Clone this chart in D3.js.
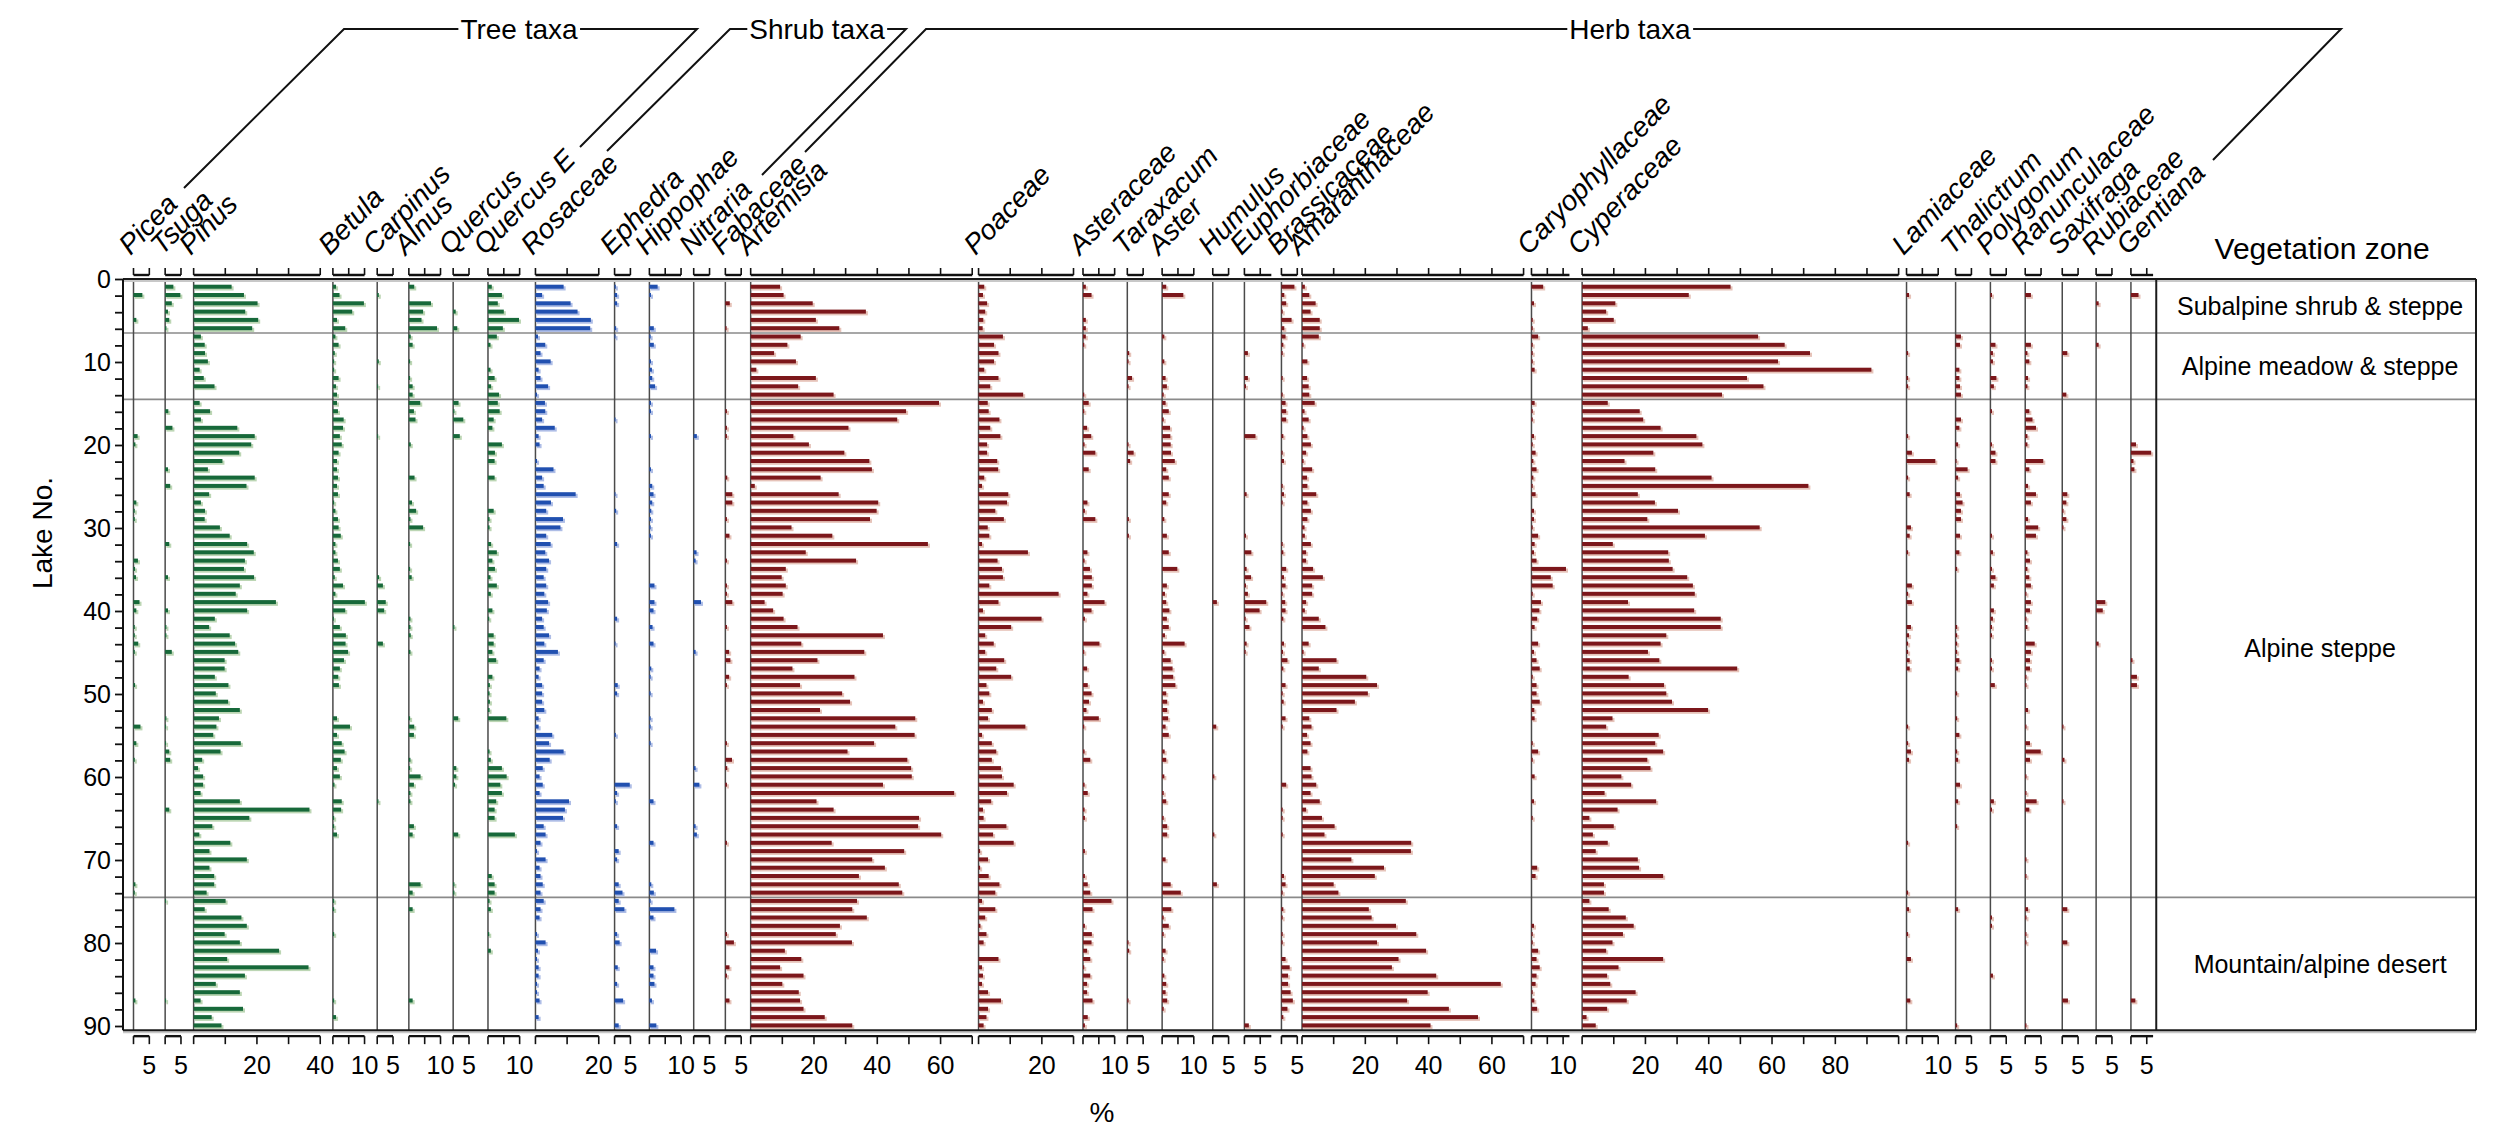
<!DOCTYPE html>
<html>
<head>
<meta charset="utf-8">
<script src="https://cdn.jsdelivr.net/npm/d3@7"></script>
<style>
  body { margin: 0; background: #fff; }
  svg { display: block; font-family: Arial, "Liberation Sans", sans-serif; }
</style>
</head>
<body>
<div id="chart"></div>
<script>
// ---- data: pollen percentages per lake (lakes 1..90) ----
const taxa = ["Picea", "Tsuga", "Pinus", "Betula", "Carpinus", "Alnus", "Quercus", "Quercus E",
  "Rosaceae", "Ephedra", "Hippophae", "Nitraria",
  "Fabaceae", "Artemisia", "Poaceae", "Asteraceae", "Taraxacum", "Aster", "Humulus", "Euphorbiaceae",
  "Brassicaceae", "Amaranthaceae", "Caryophyllaceae", "Cyperaceae", "Lamiaceae", "Thalictrum",
  "Polygonum", "Ranunculaceae", "Saxifraga", "Rubiaceae", "Gentiana"];
const groups = ["tree", "tree", "tree", "tree", "tree", "tree", "tree", "tree",
  "shrub", "shrub", "shrub", "shrub",
  "herb", "herb", "herb", "herb", "herb", "herb", "herb", "herb", "herb", "herb", "herb", "herb",
  "herb", "herb", "herb", "herb", "herb", "herb", "herb"];
// panel x-domain (in %), axis extent and labelled ticks
const panelSpan = [10, 9, 44, 14, 10, 14, 11, 15, 25, 11, 14, 10, 8, 72, 33, 14, 11, 16, 10, 11.7,
  6.5, 72.5, 16, 102.5, 15.5, 11, 11, 11.7, 10.7, 11, 8];
const axisMax = [5, 5, 40, 10, 5, 10, 5, 10, 20, 5, 10, 5, 5, 70, 30, 10, 5, 10, 5, 8.5,
  5, 70, 12, 100, 10, 5, 5, 5, 5, 5, 7];
const tickLabels = [[5], [5], [20, 40], [10], [5], [10], [5], [10], [20], [5], [10], [5], [5],
  [20, 40, 60], [20], [10], [5], [10], [5], [5], [5], [20, 40, 60], [10], [20, 40, 60, 80],
  [10], [5], [5], [5], [5], [5], [5]];

const zoneNames = ["Subalpine shrub & steppe", "Alpine meadow & steppe", "Alpine steppe", "Mountain/alpine desert"];
const zoneBounds = [0, 6.5, 14.5, 74.5, 90.5];
const lakeTicks = [0, 10, 20, 30, 40, 50, 60, 70, 80, 90];

const picea = [
  0, 2.8, 0, 0, 0.9, 0, 0, 0, 0, 0,
  0, 0, 0, 0, 0, 0, 0, 0, 1.3, 0.6,
  0, 0, 0, 0, 0, 0, 0.9, 0.4, 0.4, 0,
  0, 0, 0, 1.4, 0.5, 0.8, 0, 0, 1.9, 0.9,
  0, 0.4, 0.4, 1.5, 0.4, 0, 0, 0, 0.5, 0,
  0, 0, 0, 2.2, 0, 0.9, 0, 0.4, 0, 0,
  0, 0, 0, 0, 0, 0, 0, 0, 0, 0,
  0, 0, 0.6, 0.4, 0, 0, 0, 0, 0, 0,
  0, 0, 0, 0, 0, 0, 0.6, 0, 0, 0];
const tsuga = [
  2.6, 4.8, 2.1, 0.9, 1.3, 0.4, 0, 0, 0, 0,
  0, 0, 0, 0, 0, 1.0, 0, 2.3, 0, 0,
  0, 0, 0.9, 0, 1.6, 0, 0, 0, 0, 0,
  0, 1.3, 0, 0, 0, 0.9, 0, 0, 0, 0.9,
  0, 0.4, 0.4, 0, 2.1, 0, 0, 0, 0, 0,
  0, 0, 0.4, 0.3, 0, 0.3, 1.3, 1.6, 0, 0,
  0, 0, 0, 1.3, 0, 0, 0, 0, 0, 0,
  0, 0, 0, 0, 0.3, 0, 0, 0, 0, 0,
  0, 0, 0, 0, 0, 0, 0.3, 0, 0, 0];
const pinus = [
  12.0, 15.9, 20.2, 16.3, 20.4, 18.5, 2.3, 3.5, 3.6, 4.5,
  1.9, 3.2, 6.6, 0, 1.9, 5.2, 2.3, 13.8, 19.3, 18.2,
  14.4, 9.1, 4.5, 19.3, 16.7, 4.9, 2.3, 3.6, 3.5, 8.3,
  11.4, 16.9, 19.0, 16.2, 15.9, 19.1, 14.6, 13.3, 26.0, 16.9,
  6.7, 4.9, 11.4, 13.1, 14.1, 9.8, 9.8, 6.7, 11.0, 7.0,
  10.9, 14.6, 8.0, 7.2, 6.2, 14.9, 8.5, 2.7, 1.4, 3.0,
  3.0, 2.2, 14.6, 36.6, 17.6, 5.9, 1.8, 11.6, 5.0, 16.8,
  5.0, 6.5, 6.5, 4.1, 10.1, 3.5, 15.1, 16.8, 9.8, 14.6,
  27.0, 10.6, 36.3, 16.2, 7.0, 14.6, 2.2, 15.6, 5.7, 8.8];
const betula = [
  1.0, 2.1, 9.8, 6.1, 1.3, 3.9, 0.8, 1.8, 0.6, 0.4,
  0.4, 1.8, 1.0, 1.3, 1.3, 1.6, 3.4, 3.2, 2.2, 2.8,
  1.8, 1.3, 1.3, 1.6, 1.3, 1.6, 0.4, 0.8, 1.6, 1.8,
  2.5, 0.8, 0.8, 1.6, 2.2, 0.6, 3.2, 0.8, 10.1, 3.9,
  0.3, 2.2, 4.1, 4.0, 4.8, 3.5, 2.2, 1.7, 1.9, 0,
  0, 0, 1.3, 5.4, 1.3, 2.8, 3.7, 2.5, 1.3, 2.2,
  0.5, 0, 2.8, 2.6, 0.4, 0.4, 1.3, 0, 0, 0,
  0, 0, 0, 0, 0.4, 0.4, 0, 0, 0.4, 0,
  0, 0, 0, 0, 0, 0, 0.4, 0, 1.0, 0];
const carpinus = [
  0, 0.5, 0, 0, 0, 0, 0, 0, 0, 0.5,
  0, 0, 0.3, 0, 0, 0, 0, 0, 0.3, 0,
  0, 0, 0, 0, 0, 0, 0, 0, 0, 0,
  0, 0, 0, 0, 0, 0.6, 1.8, 0, 2.7, 2.2,
  0, 0, 0, 1.8, 0, 0, 0, 0, 0, 0,
  0, 0, 0, 0, 0, 0, 0, 0, 0, 0,
  0, 0, 0.4, 0, 0, 0, 0, 0, 0, 0,
  0, 0, 0, 0, 0, 0, 0, 0, 0, 0,
  0, 0, 0, 0, 0, 0, 0, 0, 0, 0];
const alnus = [
  1.7, 0, 7.0, 4.5, 4.0, 8.9, 0.6, 1.2, 0, 0.4,
  0, 0.4, 1.2, 1.2, 3.6, 1.6, 2.1, 0, 0, 0.6,
  0, 0, 0, 1.8, 0, 0, 1.0, 2.3, 0.5, 4.5,
  0, 0.4, 0, 0, 0.4, 0.9, 0, 0, 0, 0,
  0.5, 0.5, 0.6, 0, 0.5, 0, 0, 0, 0, 0,
  0, 0, 0.4, 1.7, 1.6, 0, 0, 0.5, 0.4, 3.7,
  1.6, 0.5, 0.5, 0, 0, 1.6, 1.2, 0, 0, 0,
  0, 0, 3.7, 1.2, 0, 1.2, 0, 0, 0, 0,
  0, 0, 0, 0, 0, 0, 1.2, 0, 0, 0];
const quercus = [
  0, 0, 0, 0.8, 0, 1.3, 0, 0, 0, 0,
  0, 0, 0, 0, 1.7, 0.4, 3.2, 0, 2.1, 0,
  0, 0, 0, 0, 0, 0, 0, 0, 0, 0,
  0, 0, 0, 0, 0, 0, 0, 0, 0, 0,
  0, 0.4, 0, 0, 0, 0, 0, 0, 0, 0,
  0, 0, 1.6, 0, 0, 0, 0, 0, 1.0, 1.0,
  0.6, 0, 0, 0, 0, 0, 1.6, 0, 0, 0,
  0, 0, 0.4, 0.4, 0, 0, 0, 0, 0, 0,
  0, 0, 0, 0, 0, 0, 0, 0, 0, 0];
const quercusE = [
  1.2, 4.4, 3.1, 5.0, 9.8, 4.7, 2.8, 0.8, 0, 0,
  0.8, 2.1, 1.0, 3.5, 3.1, 3.7, 1.8, 1.4, 0, 4.4,
  2.2, 2.1, 0, 2.1, 0, 0, 0, 1.8, 0.5, 0.5,
  0, 1.0, 2.8, 1.4, 2.2, 0.8, 2.8, 0.9, 0, 1.4,
  0.4, 0, 1.8, 1.8, 1.4, 2.6, 0, 1.4, 0.6, 0.5,
  0.6, 0.5, 5.8, 0, 0, 0, 0.5, 0.9, 4.4, 5.9,
  3.9, 4.4, 2.6, 2.1, 2.1, 0, 8.5, 0, 0, 0,
  0, 1.2, 2.1, 2.1, 0.5, 0.9, 0, 0, 0.4, 0,
  0.9, 0, 0, 0, 0, 0, 0, 0, 0, 0];
const rosaceae = [
  8.9, 2.1, 11.1, 13.3, 17.5, 17.3, 0.8, 3.1, 1.6, 4.8,
  1.0, 1.6, 4.0, 0.5, 3.0, 3.1, 2.1, 6.1, 1.0, 1.3,
  0, 0.5, 5.7, 2.1, 2.6, 12.7, 4.9, 3.4, 8.7, 7.9,
  3.4, 4.8, 3.1, 4.3, 3.4, 2.6, 3.4, 2.8, 4.0, 3.6,
  2.1, 2.6, 4.3, 2.8, 7.1, 2.6, 1.3, 1.0, 2.1, 2.1,
  2.1, 2.8, 1.0, 1.0, 5.3, 4.3, 8.9, 4.5, 2.3, 1.3,
  2.3, 1.3, 10.6, 9.3, 8.7, 2.6, 3.2, 1.6, 0.5, 3.2,
  1.3, 1.6, 2.3, 1.6, 2.6, 1.6, 1.3, 0, 0.5, 3.2,
  0.8, 0.5, 1.0, 1.0, 0.5, 0.5, 1.3, 0, 1.0, 0];
const ephedra = [
  0.4, 0.8, 0.8, 0, 0, 0.5, 0.3, 0, 0, 0,
  0, 0, 0, 0, 0, 0, 0.3, 0, 0, 0,
  0, 0, 0, 0, 0, 0.3, 0, 0.5, 0, 0,
  0, 0.8, 0, 0, 0, 0, 0, 0, 0, 0,
  0.8, 0, 0, 0.3, 0, 0, 0, 0, 1.0, 0.8,
  0, 0, 0, 0, 0.4, 0, 0, 0, 0, 0,
  4.8, 0.8, 0.4, 0, 0, 0.8, 0, 0, 1.3, 0.8,
  0, 0, 1.3, 2.5, 1.3, 3.1, 0, 0, 0.8, 1.6,
  0, 0, 1.0, 0, 0.8, 0, 2.7, 0, 0, 1.3];
const hippophae = [
  2.6, 0.5, 0, 0, 0, 1.4, 0.4, 1.4, 0, 0.5,
  0.8, 0.9, 1.8, 0, 0.5, 0.5, 0, 0, 0.5, 0,
  0, 0, 0.5, 0, 0.9, 1.3, 0.9, 0.6, 0.5, 0.4,
  0.5, 0, 0, 0, 0, 0, 1.6, 0, 1.6, 1.3,
  0, 1.0, 0, 1.3, 0, 0, 0.6, 0.4, 0, 0.4,
  0, 0, 0.4, 0.4, 0, 0.4, 0, 0, 0, 0,
  0, 0, 1.3, 0, 0, 0, 0, 1.3, 0, 0,
  0, 0, 0.6, 1.4, 0.4, 7.9, 1.3, 0, 0, 0,
  2.1, 0, 1.3, 1.3, 1.6, 0, 0.8, 0, 0, 2.2];
// sparse taxa: [lake, %]
const nitraria = [[19, 1.0], [33, 0.9], [34, 0.6], [39, 2.3], [45, 0.6], [59, 0.6], [61, 1.8], [66, 0.6], [67, 1.0]];
const fabaceae = [[3, 1.4], [6, 0.4], [16, 0.5], [18, 0.5], [19, 0.5], [24, 0.6], [26, 2.2], [27, 2.2], [29, 0.5],
  [31, 1.3], [34, 0.5], [37, 0.5], [38, 0.5], [39, 2.2], [42, 0.5], [45, 1.2], [46, 1.6], [48, 1.2], [49, 0.5],
  [56, 0.5], [58, 2.1], [59, 0.6], [61, 0.5], [68, 0.5], [79, 0.5], [80, 2.7], [83, 1.3], [84, 0.5], [87, 1.3]];
const artemisia = [
  9.3, 10.4, 19.6, 36.4, 20.6, 28.0, 15.8, 11.6, 7.4, 14.3,
  1.8, 20.6, 15.0, 26.2, 59.5, 49.1, 46.3, 30.9, 13.5, 18.4,
  29.6, 37.5, 38.3, 22.1, 1.3, 27.8, 40.3, 39.8, 37.7, 12.9,
  25.8, 56.0, 17.4, 33.3, 11.1, 9.8, 11.1, 10.1, 4.4, 7.1,
  10.4, 14.8, 41.8, 16.0, 35.9, 21.1, 13.2, 32.8, 15.6, 28.9,
  31.4, 21.9, 52.0, 45.7, 51.8, 39.0, 30.6, 49.5, 50.7, 50.9,
  41.8, 64.3, 20.8, 26.2, 53.2, 52.9, 60.2, 25.6, 48.5, 38.4,
  42.4, 34.2, 46.8, 47.9, 33.6, 32.1, 36.7, 28.2, 26.9, 32.0,
  10.8, 16.0, 9.3, 16.7, 10.0, 15.2, 15.6, 16.7, 23.4, 32.1];
const poaceae = [
  1.8, 1.4, 2.7, 2.1, 1.5, 1.3, 7.7, 4.9, 6.3, 4.9,
  1.8, 6.3, 3.7, 14.1, 2.9, 3.2, 6.6, 3.7, 6.9, 2.7,
  2.7, 5.9, 6.2, 1.8, 1.1, 9.4, 9.0, 5.3, 8.0, 2.9,
  3.4, 1.1, 15.6, 6.0, 7.4, 7.7, 3.4, 25.3, 6.3, 1.4,
  19.9, 10.3, 2.1, 4.8, 2.1, 8.1, 5.6, 10.3, 2.5, 3.4,
  1.4, 4.2, 3.0, 14.8, 1.1, 4.2, 5.6, 4.2, 7.1, 7.4,
  11.1, 9.0, 4.0, 1.4, 1.6, 8.8, 4.6, 11.1, 0.5, 3.0,
  0.5, 3.2, 6.6, 5.3, 1.1, 5.3, 2.1, 0.6, 2.5, 1.6,
  0, 6.3, 1.1, 1.4, 1.1, 3.0, 7.1, 3.0, 2.5, 1.6];
const asteraceae = [
  0.9, 2.7, 0, 0, 0.9, 0.9, 0.9, 0.4, 0, 0,
  0, 0, 0, 0.4, 1.8, 0.4, 0, 1.3, 2.6, 0.5,
  3.9, 0, 1.8, 0, 0, 0, 1.4, 0.6, 3.9, 0,
  0, 0, 1.4, 0.5, 2.2, 2.8, 2.8, 1.4, 6.8, 2.7,
  0.6, 0, 0, 5.2, 0.4, 0, 1.3, 0, 1.5, 2.7,
  1.9, 1.1, 5.0, 0.4, 0, 0, 0.5, 2.3, 0, 0,
  0.5, 1.5, 0, 0.5, 0.6, 0, 0, 0, 0.6, 0,
  0, 0.6, 1.5, 2.3, 9.0, 3.0, 0, 0.6, 2.8, 2.7,
  1.3, 2.3, 0.4, 2.3, 1.3, 1.3, 3.0, 0, 1.5, 0.6];
const taraxacum = [[9, 0.6], [10, 0.4], [12, 1.5], [13, 0.4], [20, 0.4], [21, 2.0], [22, 0.9], [29, 0.5],
  [31, 0.5], [80, 0.4], [81, 0.6], [87, 0.4]];
const aster = [
  1.3, 6.7, 0, 0, 0, 0, 0.7, 0, 0, 0.7,
  0, 1.1, 1.5, 0.5, 1.1, 2.1, 0.5, 2.5, 2.6, 2.7,
  2.8, 4.0, 1.3, 2.1, 0, 2.1, 1.3, 0, 0.7, 0,
  1.5, 0, 2.1, 0, 4.8, 0, 1.5, 0.9, 1.3, 2.3,
  1.5, 2.1, 0.9, 7.1, 0.7, 2.7, 3.3, 3.5, 4.2, 1.3,
  1.6, 1.6, 1.9, 1.1, 2.1, 0, 0.8, 1.3, 0, 0.7,
  0, 0.5, 1.3, 0, 0.5, 1.6, 1.6, 0, 0, 1.1,
  0, 0, 2.7, 5.9, 0, 2.9, 0.5, 2.1, 0.5, 0,
  1.1, 0.5, 0, 0.7, 1.3, 1.1, 1.6, 0.5, 0, 0];
const humulus = [[39, 1.3], [54, 1.1], [60, 0.5], [67, 0.5], [73, 1.3]];
const euphorbiaceae = [[9, 1.1], [12, 1.1], [13, 0.5], [19, 3.5], [26, 0.7], [31, 0.5], [33, 2.2], [35, 0.7],
  [36, 2.1], [37, 0.5], [38, 1.1], [39, 6.9], [40, 4.8], [41, 0.4], [42, 1.6], [44, 0.7], [45, 0.4], [90, 1.4]];
const brassicaceae = [
  4.1, 0.9, 1.5, 0.4, 3.2, 0.9, 1.3, 0.6, 0.4, 0,
  0, 0.4, 0, 0.4, 1.3, 1.5, 1.5, 0, 0.6, 0,
  0.4, 0.8, 0, 0, 0.4, 0.8, 0.4, 0, 0, 0,
  0, 0.4, 0.6, 0, 1.5, 0.8, 1.3, 0.4, 1.2, 1.3,
  0.6, 0, 0, 0.8, 0.5, 1.9, 0.6, 0, 1.3, 0.4,
  0.7, 0, 1.3, 0.4, 0, 0, 0, 0, 0, 0,
  1.5, 0, 0, 0.4, 0.4, 0, 0.4, 0, 0, 0,
  0, 0.8, 1.3, 0.4, 0, 0.6, 0.4, 0, 0.4, 0.4,
  0, 1.3, 2.6, 2.1, 2.1, 2.9, 3.6, 1.9, 0.6, 0];
const amaranthaceae = [
  0.9, 2.3, 4.3, 2.7, 5.6, 5.6, 5.3, 0.5, 0, 1.7,
  0, 1.6, 2.1, 2.3, 4.0, 0.8, 2.1, 0.5, 1.7, 2.8,
  1.3, 0.5, 3.2, 1.6, 1.7, 4.5, 1.7, 2.8, 1.7, 0.8,
  0.9, 2.8, 1.3, 1.3, 3.5, 6.6, 3.2, 3.2, 1.3, 0.9,
  5.3, 7.4, 0, 2.1, 0.5, 10.9, 5.3, 20.3, 23.7, 20.8,
  16.7, 10.9, 2.3, 3.0, 1.6, 2.7, 1.7, 0, 2.7, 3.0,
  4.5, 2.7, 5.6, 1.3, 6.3, 10.3, 7.1, 34.5, 34.4, 15.6,
  25.9, 23.0, 10.0, 11.5, 32.8, 21.1, 22.0, 29.7, 36.1, 23.7,
  39.2, 30.5, 28.4, 42.4, 62.8, 39.7, 33.2, 46.4, 55.6, 40.6];
const caryophyllaceae = [
  3.7, 0, 0.8, 0, 0.4, 0.4, 2.1, 0.4, 0.4, 0.4,
  1.0, 0, 0, 0, 1.0, 0.4, 0.4, 0, 0.8, 0.4,
  1.3, 0.6, 1.6, 0.6, 0.4, 1.3, 0, 0.8, 0.8, 0.4,
  2.1, 1.0, 0.8, 1.6, 10.9, 6.1, 6.7, 0.4, 3.0, 2.5,
  1.8, 1.0, 0, 2.1, 0.8, 1.6, 2.6, 0.4, 1.6, 1.6,
  2.6, 0.9, 1.0, 0, 0, 0.4, 2.1, 0.4, 0, 1.0,
  0, 0, 0.8, 0, 0.4, 0, 0, 0, 0, 0,
  1.8, 1.3, 0, 0, 0, 0, 0, 0.8, 0.4, 0.4,
  2.1, 1.6, 2.6, 1.6, 1.3, 0.4, 0.9, 1.8, 0, 0];
const cyperaceae = [
  46.9, 33.7, 10.5, 7.6, 10.0, 1.8, 55.6, 64.0, 72.0, 61.9,
  91.4, 52.1, 57.3, 44.2, 8.1, 18.2, 19.3, 24.8, 36.1, 38.0,
  22.5, 13.4, 23.1, 40.9, 71.5, 17.6, 23.0, 30.3, 20.6, 56.1,
  38.8, 9.7, 27.2, 27.4, 28.6, 33.2, 35.0, 35.6, 14.5, 35.4,
  43.8, 43.8, 26.6, 24.8, 20.8, 24.4, 49.0, 14.7, 25.9, 26.6,
  28.4, 39.8, 9.6, 7.6, 24.2, 23.1, 25.6, 20.6, 21.6, 12.4,
  15.5, 7.1, 23.4, 11.2, 2.3, 10.0, 3.4, 8.1, 4.3, 17.6,
  18.0, 25.6, 6.9, 6.9, 2.3, 8.4, 13.8, 16.3, 12.9, 9.6,
  7.6, 25.6, 11.5, 7.9, 8.9, 16.9, 14.1, 7.9, 1.4, 4.3];
const lamiaceae = [[2, 0.8], [9, 0.5], [12, 0.5], [13, 0.5], [19, 0.5], [21, 1.7], [22, 9.1], [24, 0.5], [26, 1.0],
  [30, 1.4], [31, 1.0], [33, 0.5], [37, 1.7], [38, 0.5], [39, 1.7], [42, 1.4], [43, 0.8], [44, 0.5], [45, 0.5],
  [46, 1.0], [47, 1.0], [54, 0.5], [56, 0.5], [57, 1.4], [58, 0.8], [68, 0.5], [74, 0.5], [76, 0.8], [79, 0.5],
  [82, 1.4], [87, 1.2]];
const thalictrum = [[7, 1.7], [8, 1.4], [11, 1.2], [12, 1.2], [13, 1.4], [14, 1.7], [17, 1.7], [18, 1.2], [20, 0.8],
  [22, 0.3], [23, 3.8], [24, 0.8], [26, 1.4], [27, 2.2], [28, 1.7], [29, 1.7], [31, 1.4], [33, 1.2], [35, 0.5],
  [42, 0.5], [43, 0.5], [44, 0.5], [45, 0.5], [46, 1.2], [47, 0.8], [50, 0.5], [53, 0.5], [55, 1.2], [57, 0.5],
  [58, 0.8], [61, 1.4], [63, 0.8], [66, 0.5], [76, 0.8], [90, 0.5]];
const polygonum = [[2, 0.5], [8, 1.6], [9, 0.8], [10, 0.8], [12, 1.9], [13, 1.1], [16, 0.5], [20, 0.5], [21, 1.6],
  [22, 1.6], [31, 0.5], [33, 0.8], [35, 0.5], [36, 1.6], [37, 1.1], [40, 1.1], [41, 0.8], [42, 0.5], [43, 0.5],
  [46, 0.5], [47, 0.5], [49, 1.4], [63, 1.1], [64, 0.5], [77, 0.5], [78, 0.5], [84, 0.8]];
const ranunculaceae = [[2, 1.8], [8, 1.8], [9, 0.7], [10, 1.3], [12, 0.9], [13, 0.7], [16, 1.3], [17, 2.3], [18, 3.4],
  [19, 0.7], [20, 0.7], [22, 5.7], [23, 1.3], [25, 0.9], [26, 3.4], [27, 1.8], [29, 0.9], [30, 4.1], [31, 3.4],
  [33, 0.7], [34, 1.5], [35, 0.7], [36, 1.3], [37, 1.8], [38, 0.4], [39, 1.8], [40, 1.5], [41, 0.4], [42, 0.7],
  [44, 3.0], [45, 1.8], [46, 1.5], [47, 1.5], [48, 0.4], [49, 0.4], [52, 0.9], [54, 0.4], [56, 1.5], [57, 4.9],
  [58, 1.5], [60, 0.4], [62, 0.4], [63, 3.6], [64, 1.3], [70, 0.4], [72, 0.4], [76, 0.9], [77, 0.4], [79, 0.4],
  [80, 0.4], [90, 0.4]];
const saxifraga = [[9, 1.6], [14, 1.3], [26, 1.6], [27, 1.3], [28, 0.4], [29, 1.3], [30, 0.4], [54, 0.4], [58, 0.7],
  [63, 0.4], [76, 1.6], [80, 1.6], [87, 1.8]];
const rubiaceae = [[3, 0.8], [8, 0.8], [39, 2.9], [40, 2.1], [44, 0.8]];
const gentiana = [[2, 2.4], [20, 1.6], [21, 6.4], [22, 0.8], [23, 1.1], [46, 0.5], [48, 1.9], [49, 1.9], [87, 1.4]];

const series = [picea, tsuga, pinus, betula, carpinus, alnus, quercus, quercusE,
  rosaceae, ephedra, hippophae, nitraria,
  fabaceae, artemisia, poaceae, asteraceae, taraxacum, aster, humulus, euphorbiaceae,
  brassicaceae, amaranthaceae, caryophyllaceae, cyperaceae, lamiaceae, thalictrum,
  polygonum, ranunculaceae, saxifraga, rubiaceae, gentiana];

// ---- styling / layout ----
const W = 2503, H = 1146;
const colors = {
  tree: { dark: "#17693a", pale: "#bcd6b4" },
  shrub: { dark: "#2150b0", pale: "#aebde6" },
  herb: { dark: "#7c171b", pale: "#e6c3b9" }
};
const plotLeft = 133.5, pxPerPct = 3.165;
const axisX = 123, boxRight = 2476;

const svg = d3.select("#chart").append("svg")
  .attr("width", W).attr("height", H);

const y = d3.scaleLinear().domain([0, 90]).range([279, 1026]);
const yTop = y(0), yBot = y(90.5);

// expand data into per-lake points
function toPoints(s) {
  if (s.length && Array.isArray(s[0])) {
    return s.map(([lake, v]) => ({ lake, v }));
  }
  return s.map((v, i) => ({ lake: i + 1, v }));
}

// panel scales
let cursor = plotLeft;
const panels = taxa.map((name, i) => {
  const x = d3.scaleLinear().domain([0, panelSpan[i]])
    .range([cursor, cursor + panelSpan[i] * pxPerPct]);
  cursor += panelSpan[i] * pxPerPct;
  return { name, i, x, group: groups[i], points: toPoints(series[i]).filter(d => d.v > 0) };
});
const plotRight = cursor;

// zone separators
svg.append("g").selectAll("line")
  .data(zoneBounds.slice(1, -1))
  .join("line")
  .attr("x1", axisX).attr("x2", boxRight)
  .attr("y1", d => y(d)).attr("y2", d => y(d))
  .attr("stroke", "#8a8a8a").attr("stroke-width", 1.6);

// panel vertical axis lines
svg.append("g").selectAll("line")
  .data(panels)
  .join("line")
  .attr("x1", d => d.x(0)).attr("x2", d => d.x(0))
  .attr("y1", yTop).attr("y2", yBot)
  .attr("stroke", "#4a4a4a").attr("stroke-width", 1.5);

// bars
panels.forEach(p => {
  const g = svg.append("g").attr("class", "panel");
  const c = colors[p.group];
  g.selectAll("rect.shadow")
    .data(p.points)
    .join("rect")
    .attr("class", "shadow")
    .attr("x", p.x(0) + 1.2)
    .attr("y", d => y(d.lake) - 1.0)
    .attr("width", d => p.x(d.v) - p.x(0) + 0.8)
    .attr("height", 4.2)
    .attr("fill", c.pale);
  g.selectAll("rect.bar")
    .data(p.points)
    .join("rect")
    .attr("class", "bar")
    .attr("x", p.x(0))
    .attr("y", d => y(d.lake) - 2.6)
    .attr("width", d => p.x(d.v) - p.x(0))
    .attr("height", 4.0)
    .attr("fill", c.dark);

  // top & bottom panel axes
  const step = axisMax[p.i] >= 20 ? 10 : 5;
  const ticks = d3.range(0, axisMax[p.i] + 0.01, step);
  const top = svg.append("g").attr("transform", `translate(0,${yTop - 4})`);
  top.append("line")
    .attr("x1", p.x(0)).attr("x2", p.x(axisMax[p.i]))
    .attr("stroke", "#111").attr("stroke-width", 2.4);
  top.selectAll("line.t").data(ticks).join("line").attr("class", "t")
    .attr("x1", d => p.x(d)).attr("x2", d => p.x(d))
    .attr("y1", 0).attr("y2", -7)
    .attr("stroke", "#111").attr("stroke-width", 1.6);

  const bot = svg.append("g").attr("transform", `translate(0,${yBot + 6})`);
  bot.append("line")
    .attr("x1", p.x(0)).attr("x2", p.x(axisMax[p.i]))
    .attr("stroke", "#111").attr("stroke-width", 2.4);
  bot.selectAll("line.t").data(ticks).join("line").attr("class", "t")
    .attr("x1", d => p.x(d)).attr("x2", d => p.x(d))
    .attr("y1", 0).attr("y2", 8)
    .attr("stroke", "#111").attr("stroke-width", 1.6);
  bot.selectAll("text").data(tickLabels[p.i]).join("text")
    .attr("x", d => p.x(d))
    .attr("y", 38)
    .attr("text-anchor", "middle")
    .attr("font-size", 25)
    .attr("fill", "#000")
    .text(d => d);

  // rotated taxon label
  svg.append("text")
    .attr("transform", `translate(${p.x(0) - 3},256) rotate(-46)`)
    .attr("font-size", 28)
    .attr("font-style", "italic")
    .attr("fill", "#000")
    .text(p.name);
});

// outer frame lines (top / bottom with soft shadow)
[yTop, yBot].forEach(yy => {
  svg.append("line").attr("x1", axisX).attr("x2", boxRight)
    .attr("y1", yy + 2).attr("y2", yy + 2)
    .attr("stroke", "#c8c8c8").attr("stroke-width", 2);
  svg.append("line").attr("x1", axisX).attr("x2", boxRight)
    .attr("y1", yy).attr("y2", yy)
    .attr("stroke", "#1a1a1a").attr("stroke-width", 2);
});
// right plot border and zone box
[plotRight, boxRight].forEach(xx => {
  svg.append("line").attr("x1", xx).attr("x2", xx)
    .attr("y1", yTop).attr("y2", yBot)
    .attr("stroke", "#1a1a1a").attr("stroke-width", 2);
});

// y axis (lake number)
const yAxis = d3.axisLeft(y)
  .tickValues(d3.range(0, 91, 2))
  .tickFormat(d => lakeTicks.includes(d) ? d : "")
  .tickSize(8).tickPadding(4);
const ya = svg.append("g").attr("transform", `translate(${axisX},0)`).call(yAxis);
ya.select(".domain").attr("stroke", "#111").attr("stroke-width", 2)
  .attr("d", `M0,${yTop}V${yBot}`);
ya.selectAll(".tick line").attr("stroke", "#111").attr("stroke-width", 1.8);
ya.selectAll(".tick text").attr("font-size", 25).attr("font-family", "Arial, 'Liberation Sans', sans-serif").attr("fill", "#000");

svg.append("text")
  .attr("transform", `translate(52,533) rotate(-90)`)
  .attr("text-anchor", "middle")
  .attr("font-size", 28)
  .text("Lake No.");

svg.append("text")
  .attr("x", 1102).attr("y", 1122)
  .attr("text-anchor", "middle")
  .attr("font-size", 28)
  .text("%");

// vegetation zones
const zoneCx = (plotRight + boxRight) / 2;
svg.append("text")
  .attr("x", zoneCx + 6).attr("y", 259)
  .attr("text-anchor", "middle")
  .attr("font-size", 30)
  .text("Vegetation zone");
svg.append("g").selectAll("text")
  .data(zoneNames)
  .join("text")
  .attr("x", zoneCx + 4)
  .attr("y", (d, i) => (y(zoneBounds[i]) + y(zoneBounds[i + 1])) / 2)
  .attr("dy", "0.35em")
  .attr("text-anchor", "middle")
  .attr("font-size", 25)
  .text(d => d);

// group headers with brackets
const headerY = 29;
const headers = [
  { text: "Tree taxa", cx: 519, left: 344, right: 697, dl: [184, 188], dr: [580, 147] },
  { text: "Shrub taxa", cx: 817, left: 730, right: 906, dl: [607, 151], dr: [762, 175] },
  { text: "Herb taxa", cx: 1630, left: 926, right: 2341, dl: [805, 152], dr: [2213, 160] }
];
headers.forEach(h => {
  const t = svg.append("text")
    .attr("x", h.cx).attr("y", headerY)
    .attr("dy", "0.35em")
    .attr("text-anchor", "middle")
    .attr("font-size", 28)
    .text(h.text);
  const bb = t.node().getBBox();
  const path = d3.path();
  path.moveTo(h.dl[0], h.dl[1]);
  path.lineTo(h.left, headerY);
  path.lineTo(bb.x - 2, headerY);
  path.moveTo(bb.x + bb.width + 2, headerY);
  path.lineTo(h.right, headerY);
  path.lineTo(h.dr[0], h.dr[1]);
  svg.append("path").attr("d", path.toString())
    .attr("fill", "none").attr("stroke", "#111").attr("stroke-width", 2);
});
</script>
</body>
</html>
